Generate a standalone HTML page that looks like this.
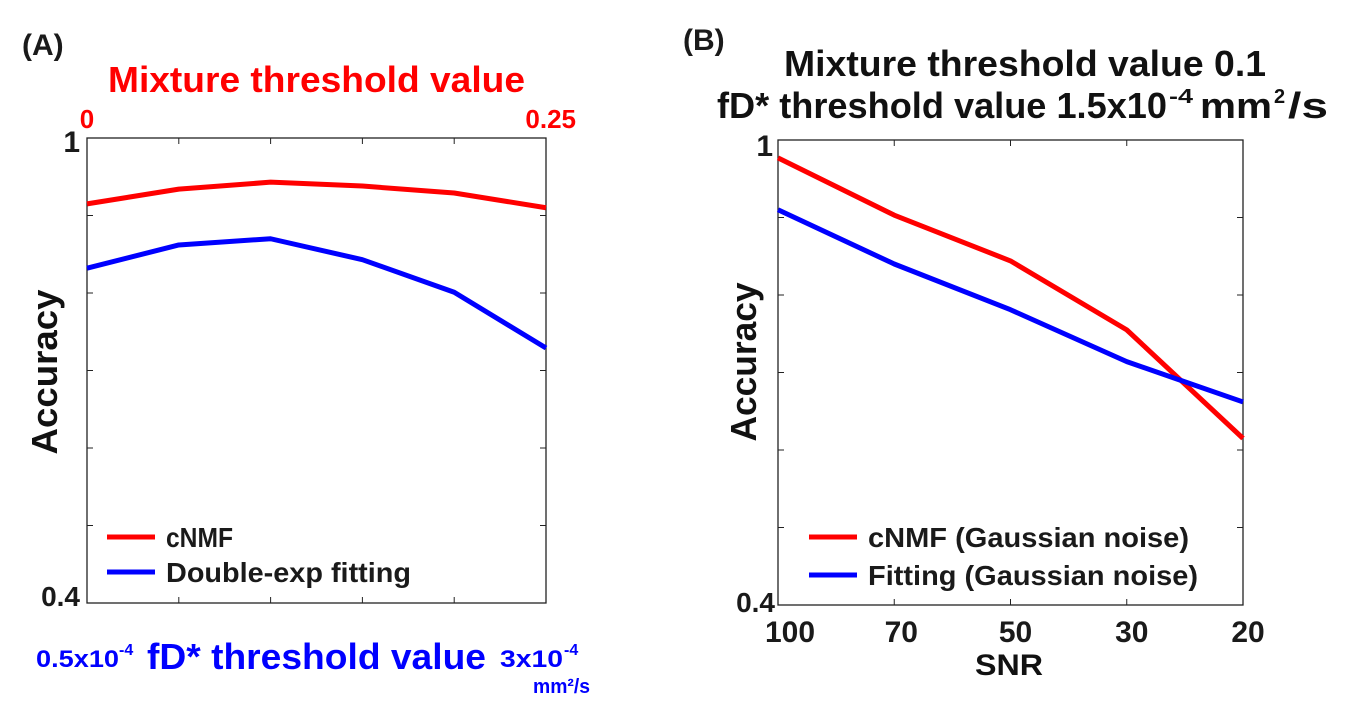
<!DOCTYPE html>
<html><head><meta charset="utf-8"><style>
body{margin:0;background:#fff;width:1364px;height:705px;overflow:hidden}
svg text{font-family:"Liberation Sans",Arial,sans-serif;font-weight:bold}
</style></head><body>
<svg id="c" width="1364" height="705"></svg>
<script>
const aX=[0,1,2,3,4,5];
const aCnmf=[0.915,0.934,0.943,0.938,0.929,0.910];
const aFit=[0.832,0.862,0.870,0.843,0.801,0.729];
const bCats=["100","70","50","30","20"];
const bCnmf=[0.977,0.903,0.844,0.755,0.615];
const bFit=[0.910,0.840,0.781,0.714,0.662];
const ns="http://www.w3.org/2000/svg";
const svg=document.getElementById('c');
function el(t,a,p){const e=document.createElementNS(ns,t);for(const k in a)e.setAttribute(k,a[k]);(p||svg).appendChild(e);return e;}
function txt(x,y,s,sz,fill,anchor,name,len,extra){const a=Object.assign({x:x,y:y,'font-size':sz,fill:fill,'text-anchor':anchor||'start'},extra||{});
if(len){a.textLength=len;a.lengthAdjust='spacingAndGlyphs';}
const e=el('text',a);e.textContent=s;


return e;}
function panel(L,R,T,B,nx,xs,series,colors,names,legYs,legNames,legLens,legOff,tag){
  const X=i=>L+(R-L)*i/nx, Y=v=>B-(B-T)*(v-0.4)/0.6;
  const box=el('rect',{x:L,y:T,width:R-L,height:B-T,fill:'none',stroke:'#222','stroke-width':1.3});
  
  
  for(let i=1;i<nx;i++){el('line',{x1:X(i),x2:X(i),y1:T,y2:T+6,stroke:'#222'});el('line',{x1:X(i),x2:X(i),y1:B,y2:B-6,stroke:'#222'});}
  for(let k=1;k<6;k++){const y=Y(0.4+k*0.1);el('line',{x1:L,x2:L+6,y1:y,y2:y,stroke:'#222'});el('line',{x1:R,x2:R-6,y1:y,y2:y,stroke:'#222'});}
  series.forEach((s,j)=>{const p=el('polyline',{points:s.map((v,i)=>X(xs[i])+','+Y(v)).join(' '),fill:'none',stroke:colors[j],'stroke-width':5,'stroke-linejoin':'round'});
    
    });
  legNames.forEach((n,j)=>{const y=legYs[j];el('line',{x1:L+legOff,x2:L+legOff+48,y1:y,y2:y,stroke:colors[j],'stroke-width':5});
    txt(L+legOff+59,y+10,n,28,'#1a1a1a','start',tag+'-legend-entry-'+(j+1),legLens[j]);});
  return X;
}
panel(87,546,138,603,5,aX,[aCnmf,aFit],['#f00','#00f'],['cnmf-line-a','fitting-line-a'],[537,572],['cNMF','Double-exp fitting'],[67,245],20,'a');
const XB=panel(778,1243,140,605,4,[0,1,2,3,4],[bCnmf,bFit],['#f00','#00f'],['cnmf-line-b','fitting-line-b'],[537,575],['cNMF (Gaussian noise)','Fitting (Gaussian noise)'],[321,330],31,'b');
const bOff=[12,7,5,5,5];
bCats.forEach((c,i)=>txt(XB(i)+bOff[i],642,c,30,'#1a1a1a','middle','b-x-tick-'+c));
txt(80,152,'1',30,'#1a1a1a','end','a-y-tick-1');
txt(80,606,'0.4',28,'#1a1a1a','end','a-y-tick-0.4');
txt(773,156,'1',30,'#1a1a1a','end','b-y-tick-1');
txt(775,612,'0.4',28,'#1a1a1a','end','b-y-tick-0.4');
txt(22,55,'(A)',30,'#1a1a1a','start','panel-a-label');
txt(683,50,'(B)',30,'#1a1a1a','start','panel-b-label');
txt(108,92,'Mixture threshold value',36,'#f00','start','a-top-axis-title',417);
txt(87,128,'0',26,'#f00','middle','a-top-tick-0');
txt(576,128,'0.25',26,'#f00','end','a-top-tick-0.25');
txt(36,667,'0.5x10',24,'#00f','start','a-bottom-tick-min',83);
txt(119,655,'-4',16,'#00f','start','a-bottom-tick-min-exp');
txt(500,667,'3x10',24,'#00f','start','a-bottom-tick-max',63);
txt(564,655,'-4',16,'#00f','start','a-bottom-tick-max-exp');
txt(147,669,'fD* threshold value',36,'#00f','start','a-bottom-axis-title',339);
txt(533,693,'mm²/s',20,'#00f','start','a-bottom-unit',57);
txt(975,675,'SNR',30,'#111','start','b-x-axis-title',68);
txt(0,0,'Accuracy',36,'#111','middle','a-y-axis-title',165,{transform:'translate(57,372) rotate(-90)'});
txt(0,0,'Accuracy',36,'#111','middle','b-y-axis-title',159,{transform:'translate(756,362) rotate(-90)'});
txt(784,76,'Mixture threshold value 0.1',36,'#111','start','b-title-line1',482);
txt(717,118,'fD* threshold value 1.5x10',36,'#111','start','b-title-line2',450);
txt(1169,103,'-4',20,'#111','start','b-title-exp',24);
txt(1200,118,'mm',36,'#111','start','b-title-unit',72);
txt(1274,103,'2',20,'#111','start','b-title-unit-exp');
txt(1288,118,'/s',36,'#111','start','b-title-unit-s',40);
</script>
</body></html>
